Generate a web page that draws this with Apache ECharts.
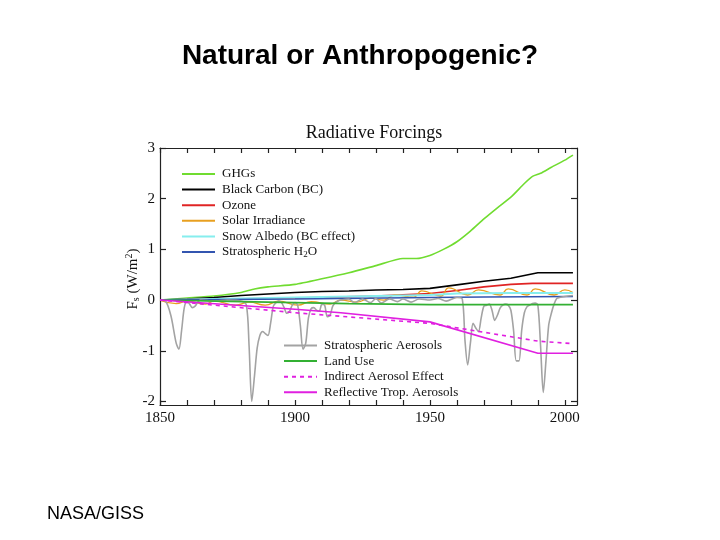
<!DOCTYPE html>
<html>
<head>
<meta charset="utf-8">
<script src="https://cdn.jsdelivr.net/npm/echarts@6/dist/echarts.min.js"></script>
<style>html,body{margin:0;padding:0;background:#fff}#c{width:720px;height:540px}</style>
</head>
<body>
<div id="c"></div>
<script>
// ---- data: [year, forcing W/m2] ----
const ghgs = [[1850,0],[1860,0.04],[1870,0.08],[1880,0.15],[1885,0.22],[1890,0.26],[1900,0.31],[1910,0.42],[1920,0.54],[1930,0.68],[1940,0.82],[1945,0.82],[1950,0.88],[1955,1.0],[1960,1.15],[1965,1.36],[1970,1.6],[1975,1.82],[1980,2.03],[1985,2.3],[1988,2.44],[1991,2.5],[1995,2.62],[2000,2.76],[2003,2.86]];
const blackCarbon = [[1850,0],[1860,0.02],[1870,0.05],[1880,0.09],[1890,0.12],[1900,0.15],[1910,0.17],[1920,0.18],[1930,0.2],[1940,0.21],[1950,0.23],[1960,0.3],[1970,0.37],[1980,0.43],[1990,0.54],[2003,0.54]];
const ozone = [[1850,0],[1900,0.04],[1930,0.08],[1950,0.13],[1960,0.19],[1970,0.26],[1980,0.31],[1988,0.33],[2003,0.33]];
const solar = [[1850,0],[1856,-0.07],[1860,-0.02],[1867,-0.08],[1870,-0.02],[1878,-0.1],[1883,-0.04],[1889,-0.1],[1894,-0.02],[1901,-0.1],[1906,-0.03],[1913,-0.08],[1917,0.0],[1923,-0.04],[1928,0.04],[1933,0.0],[1937,0.1],[1944,0.06],[1947,0.18],[1954,0.08],[1957,0.24],[1964,0.1],[1968,0.2],[1976,0.1],[1979,0.22],[1986,0.1],[1989,0.22],[1996,0.1],[2000,0.2],[2003,0.15]];
const snowAlbedo = [[1850,0],[1870,0.02],[1900,0.05],[1930,0.08],[1950,0.1],[1960,0.13],[1980,0.14],[2003,0.14]];
const stratH2O = [[1850,0],[1900,0.02],[1950,0.05],[1970,0.06],[2003,0.07]];
const stratAerosols = [[1850,0],[1852,-0.02],[1854,-0.3],[1856,-0.85],[1857,-0.97],[1858,-0.6],[1859,-0.15],[1860,-0.02],[1861,-0.08],[1862,-0.15],[1863,-0.12],[1864,-0.04],[1865,0],[1870,-0.02],[1875,0],[1880,-0.02],[1882,-0.1],[1883,-0.9],[1884,-2.0],[1885,-1.5],[1886,-0.95],[1887,-0.7],[1888,-0.62],[1889,-0.66],[1890,-0.7],[1891,-0.45],[1892,-0.12],[1893,-0.05],[1894,-0.02],[1895,-0.05],[1896,-0.15],[1897,-0.26],[1898,-0.22],[1899,-0.1],[1900,-0.05],[1901,-0.1],[1902,-0.5],[1903,-0.97],[1904,-0.85],[1905,-0.35],[1906,-0.17],[1907,-0.15],[1908,-0.2],[1909,-0.22],[1910,-0.08],[1911,-0.1],[1912,-0.33],[1913,-0.3],[1914,-0.12],[1915,-0.05],[1916,-0.02],[1917,0],[1920,0.02],[1922,-0.05],[1925,0.02],[1928,-0.05],[1930,0.03],[1932,-0.06],[1935,0.02],[1938,-0.03],[1940,0.02],[1943,-0.04],[1946,0.02],[1950,0.0],[1953,0.03],[1956,-0.02],[1960,0.05],[1962,0.02],[1963,-0.8],[1964,-1.28],[1965,-0.85],[1966,-0.46],[1967,-0.55],[1968,-0.62],[1969,-0.35],[1970,-0.12],[1971,-0.1],[1972,-0.08],[1973,-0.2],[1974,-0.4],[1975,-0.3],[1976,-0.16],[1977,-0.1],[1978,-0.08],[1979,-0.1],[1980,-0.2],[1981,-0.6],[1982,-1.2],[1983,-1.2],[1984,-0.6],[1985,-0.25],[1986,-0.13],[1987,-0.1],[1988,-0.07],[1989,-0.06],[1990,-0.1],[1991,-0.9],[1992,-1.82],[1993,-1.2],[1994,-0.5],[1995,-0.26],[1996,-0.08],[1997,0.03],[1998,0.05],[2000,0.07],[2003,0.09]];
const landUse = [[1850,0],[1880,-0.03],[1900,-0.05],[1920,-0.07],[1950,-0.09],[2003,-0.09]];
const indirectAerosol = [[1850,0],[1900,-0.25],[1917,-0.32],[1950,-0.46],[1990,-0.81],[2003,-0.86]];
const reflectiveAerosols = [[1850,0],[1900,-0.18],[1917,-0.25],[1950,-0.43],[1990,-1.05],[2003,-1.05]];

const xMajorLabels = [1850, 1900, 1950, 2000];
const xTicks = [1850,1860,1870,1880,1890,1900,1910,1920,1930,1940,1950,1960,1970,1980,1990,2000];
const yTicks = [-2, -1, 0, 1, 2, 3];

const legendTop = ['GHGs','Black Carbon (BC)','Ozone','Solar Irradiance','Snow Albedo (BC effect)','Stratospheric H2O'];
const legendBottom = ['Stratospheric Aerosols','Land Use','Indirect Aerosol Effect','Reflective Trop. Aerosols'];

const serif = '"Liberation Serif", "DejaVu Serif", serif';
function line(name, data, color, opts) {
  return Object.assign({
    name, type: 'line', data, symbol: 'none', smooth: false,
    lineStyle: { color, width: 1.6 }, itemStyle: { color },
    animation: false
  }, opts || {});
}

const chart = echarts.init(document.getElementById('c'), null, { renderer: 'canvas' });
const axisLineStyle = { color: '#222', width: 1.2 };
const legendCommon = {
  orient: 'vertical', itemWidth: 33, itemHeight: 14, itemGap: 2.6, padding: 0,
  selectedMode: false,
  itemStyle: { opacity: 0 },
  textStyle: { fontFamily: serif, fontSize: 13, color: '#111', padding: [0,0,0,2],
    rich: { sub: { fontFamily: serif, fontSize: 9, padding: [6, 0, 0, 0], color: '#111' } } },
  formatter: n => n === 'Stratospheric H2O' ? 'Stratospheric H{sub|2}O' : n
};

chart.setOption({
  backgroundColor: '#fff',
  animation: false,
  title: [
    { text: 'Natural or Anthropogenic?', left: 'center', top: 37,
      textStyle: { fontFamily: 'Liberation Sans, Arial, sans-serif', fontWeight: 'bold', fontSize: 28, color: '#000' } },
    { text: 'Radiative Forcings', left: 369, textAlign: 'center', top: 119,
      textStyle: { fontFamily: serif, fontWeight: 'normal', fontSize: 18, color: '#111' } }
  ],
  grid: { left: 160, right: 143, top: 148, bottom: 135 },
  legend: [
    Object.assign({ data: legendTop, left: 181, top: 167.5 }, legendCommon),
    Object.assign({ data: legendBottom, left: 283, top: 339 }, legendCommon)
  ],
  xAxis: [
    { type: 'value', min: 1850, max: 2004.5, position: 'bottom',
      axisLine: { show: true, onZero: false, lineStyle: axisLineStyle },
      axisTick: { show: true, inside: true, length: 5, lineStyle: axisLineStyle, customValues: xTicks },
      axisLabel: { customValues: xMajorLabels, formatter: v => String(v), fontFamily: serif, fontSize: 15, color: '#111', margin: 6 },
      splitLine: { show: false } },
    { type: 'value', min: 1850, max: 2004.5, position: 'top',
      axisLine: { show: true, onZero: false, lineStyle: axisLineStyle },
      axisTick: { show: true, inside: true, length: 5, lineStyle: axisLineStyle, customValues: xTicks },
      axisLabel: { show: false }, splitLine: { show: false } }
  ],
  yAxis: [
    { type: 'value', min: -2.07, max: 3, position: 'left',
      axisLine: { show: true, onZero: false, lineStyle: axisLineStyle },
      axisTick: { show: true, inside: true, length: 6, lineStyle: axisLineStyle, customValues: yTicks },
      axisLabel: { customValues: yTicks, formatter: v => String(v), fontFamily: serif, fontSize: 15, color: '#111', margin: 5 },
      splitLine: { show: false } },
    { type: 'value', min: -2.07, max: 3, position: 'right',
      axisLine: { show: true, onZero: false, lineStyle: axisLineStyle },
      axisTick: { show: true, inside: true, length: 6, lineStyle: axisLineStyle, customValues: yTicks },
      axisLabel: { show: false }, splitLine: { show: false } }
  ],
  series: [
    line('GHGs', ghgs, '#70dc30', { smooth: 0.2 }),
    line('Black Carbon (BC)', blackCarbon, '#000000'),
    line('Ozone', ozone, '#e02424'),
    line('Solar Irradiance', solar, '#e8a020', { smooth: 0.5, lineStyle: { color: '#e8a020', width: 1.3 } }),
    line('Snow Albedo (BC effect)', snowAlbedo, '#86eeee', { lineStyle: { color: '#86eeee', width: 2 } }),
    line('Stratospheric H2O', stratH2O, '#3355b0'),
    line('Stratospheric Aerosols', stratAerosols, '#a3a3a3', { smooth: 0.3 }),
    line('Land Use', landUse, '#33b033'),
    line('Indirect Aerosol Effect', indirectAerosol, '#e020e0', { lineStyle: { color: '#e020e0', width: 1.6, type: [4, 4] } }),
    line('Reflective Trop. Aerosols', reflectiveAerosols, '#e020e0')
  ],
  graphic: [
    { type: 'text', x: 133, y: 279, rotation: Math.PI / 2,
      style: { text: 'F{sub|s} (W/m{sup|2})', fontFamily: serif, fontSize: 15, fill: '#111',
        align: 'center', verticalAlign: 'middle',
        rich: { sub: { fontFamily: serif, fontSize: 10, padding: [7,0,0,0], fill: '#111' },
                sup: { fontFamily: serif, fontSize: 10, padding: [0,0,7,0], fill: '#111' } } } },
    { type: 'text', x: 47, y: 514,
      style: { text: 'NASA/GISS', fontFamily: 'Liberation Sans, Arial, sans-serif', fontSize: 18, fill: '#000',
        align: 'left', verticalAlign: 'middle' } }
  ]
});
</script>
</body>
</html>
